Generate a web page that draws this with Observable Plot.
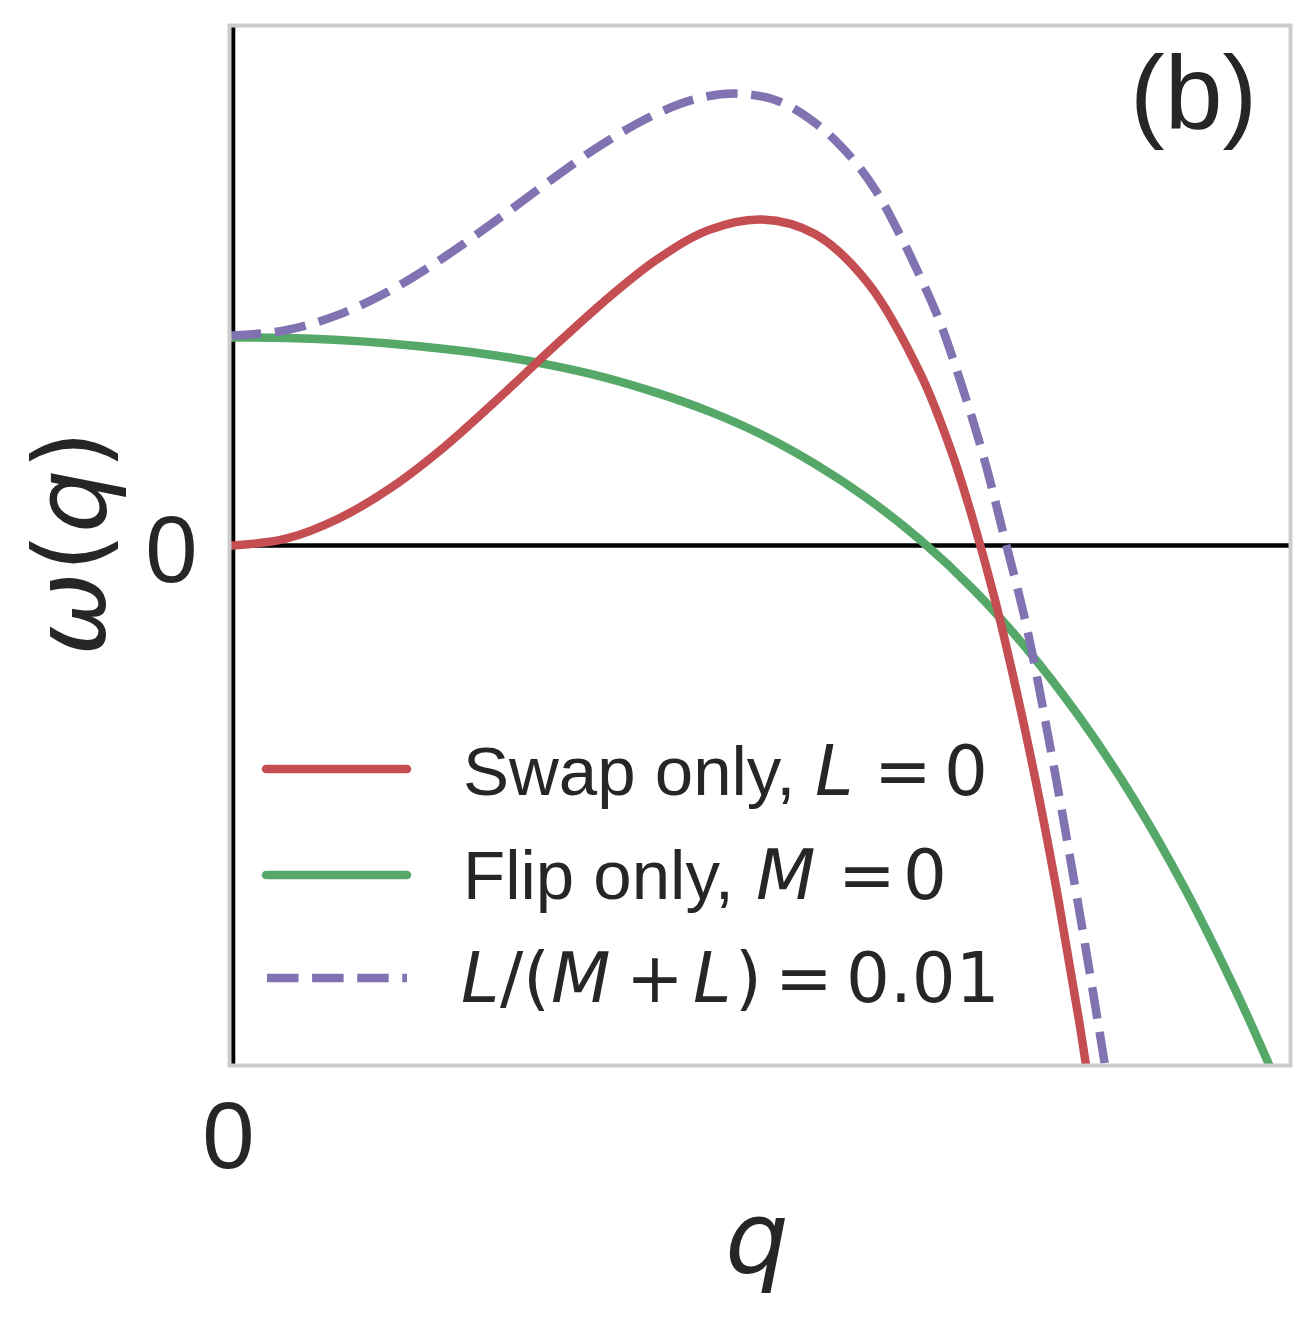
<!DOCTYPE html>
<html>
<head>
<meta charset="utf-8">
<script src="https://cdn.jsdelivr.net/npm/d3@7"></script>
<script src="https://cdn.jsdelivr.net/npm/@observablehq/plot@0.6"></script>
<style>
  html, body { margin: 0; padding: 0; background: #ffffff; }
  #chart svg { display: block; }
</style>
</head>
<body>
<div id="chart"></div>
<script>
// ---------- data ----------
// Swap only, L = 0  (red)
const swapQ = [-0.003, 0, 0.05, 0.10, 0.15, 0.20, 0.25, 0.30, 0.35, 0.40, 0.45, 0.50, 0.55, 0.60, 0.65, 0.68, 0.70, 0.72, 0.74, 0.76, 0.78, 0.80, 0.82];
const swapW = [0, 0, 0.013, 0.052, 0.112, 0.190, 0.281, 0.376, 0.468, 0.549, 0.607, 0.627, 0.599, 0.505, 0.329, 0.175, 0.045, -0.103, -0.275, -0.466, -0.680, -0.918, -1.185];

// Flip only, M = 0  (green)
const flipQ = [-0.003, 0, 0.05, 0.10, 0.15, 0.20, 0.25, 0.30, 0.35, 0.40, 0.45, 0.50, 0.55, 0.60, 0.65, 0.70, 0.75, 0.80, 0.85, 0.90, 0.95, 0.98];
const flipW = [0.400, 0.400, 0.399, 0.395, 0.388, 0.378, 0.365, 0.347, 0.324, 0.294, 0.258, 0.213, 0.157, 0.090, 0.010, -0.085, -0.198, -0.330, -0.483, -0.661, -0.866, -1.002];

// L/(M+L) = 0.01  (purple, dashed)
const mixQ = [-0.003, 0, 0.05, 0.10, 0.15, 0.20, 0.25, 0.30, 0.35, 0.40, 0.44, 0.475, 0.515, 0.552, 0.584, 0.608, 0.630, 0.649, 0.666, 0.681, 0.708, 0.729, 0.750, 0.774, 0.791, 0.809, 0.825];
const mixW = [0.404, 0.404, 0.414, 0.444, 0.492, 0.555, 0.627, 0.702, 0.773, 0.830, 0.860, 0.869, 0.855, 0.810, 0.747, 0.681, 0.599, 0.519, 0.441, 0.356, 0.181, 0.016, -0.155, -0.405, -0.598, -0.812, -1.010];

const xTicks = [0];
const yTicks = [0];
const xTickLabels = ["0"];
const yTickLabels = ["0"];
const xLabel = "q";
const yLabelParts = ["ω", "(", "q", ")"];
const panelLabel = "(b)";

// legend text pieces: [text, kind] kind: t = text font, m = math upright, mi = math italic
const legendLabels = [
  [["Swap only, ", "t"], ["L", "mi"], ["=", "m"], ["0", "m"]],
  [["Flip only, ", "t"], ["M", "mi"], ["=", "m"], ["0", "m"]],
  [["L", "mi"], ["/", "m"], ["(", "m"], ["M", "mi"], ["+", "m"], ["L", "mi"], [")", "m"], ["=", "m"], ["0.01", "m"]]
];

// ---------- styles ----------
const RED = "#C44E52", GREEN = "#55A868", PURPLE = "#8172B2";
const INK = "#262626";
const FONT_TEXT = "'Liberation Sans', Arial, sans-serif";
const FONT_MATH = "'DejaVu Sans', sans-serif";
const LW = 8.5;
const DASH = "31.5,13.6";

const rows = (qs, ws) => qs.map((q, i) => ({q, w: ws[i]}));

const chart = Plot.plot({
  width: 1314,
  height: 1320,
  marginLeft: 229,
  marginRight: 24,
  marginTop: 25,
  marginBottom: 255,
  style: {fontFamily: FONT_TEXT, color: INK, background: "#ffffff"},
  x: {domain: [-0.0033, 0.9995], axis: null},
  y: {domain: [-1, 1], axis: null},
  marks: [
    Plot.ruleX([0], {stroke: "#000000", strokeWidth: 4.6}),
    Plot.ruleY([0], {stroke: "#000000", strokeWidth: 4.6}),
    Plot.line(rows(flipQ, flipW), {x: "q", y: "w", stroke: GREEN, strokeWidth: LW, curve: "catmull-rom", clip: true, strokeLinecap: "round", strokeLinejoin: "round"}),
    Plot.line(rows(swapQ, swapW), {x: "q", y: "w", stroke: RED, strokeWidth: LW, curve: "catmull-rom", clip: true, strokeLinecap: "round", strokeLinejoin: "round"}),
    Plot.line(rows(mixQ, mixW), {x: "q", y: "w", stroke: PURPLE, strokeWidth: LW, curve: "catmull-rom", clip: true, strokeDasharray: DASH, strokeLinecap: "butt"}),
    Plot.axisX({ticks: xTicks, tickFormat: (d, i) => xTickLabels[i], tickSize: 0, tickPadding: 36, fontSize: 94, dx: -4.5, label: null, fill: INK}),
    Plot.axisY({ticks: yTicks, tickFormat: (d, i) => yTickLabels[i], tickSize: 0, tickPadding: 32, fontSize: 94, dy: 6, label: null, fill: INK}),
    Plot.frame({stroke: "#cccccc", strokeWidth: 4})
  ]
});
document.getElementById("chart").append(chart);

// ---------- annotations: legend, axis labels, panel label ----------
const svg = d3.select(chart);
const ann = svg.append("g").attr("fill", INK).attr("text-anchor", "start");

// legend
const legendColors = [RED, GREEN, PURPLE];
const legendDash = [null, null, DASH];
const legendLineY = [769, 875, 978];
const legendTextY = [795, 899, 1002];
const legendPieceX = [
  [463, 815, 874, 944],
  [463, 756, 838, 903],
  [461, 500, 523, 551, 626, 693, 735, 775, 846]
];
legendLabels.forEach((pieces, r) => {
  const ln = ann.append("line")
    .attr("x1", legendDash[r] ? 267 : 266).attr("x2", 407)
    .attr("y1", legendLineY[r]).attr("y2", legendLineY[r])
    .attr("stroke", legendColors[r]).attr("stroke-width", LW)
    .attr("stroke-linecap", legendDash[r] ? "butt" : "round");
  if (legendDash[r]) ln.attr("stroke-dasharray", legendDash[r]);
  const t = ann.append("text").attr("y", legendTextY[r]).attr("font-size", 69).attr("text-anchor", "start");
  pieces.forEach(([txt, kind], k) => {
    t.append("tspan")
      .attr("x", legendPieceX[r][k])
      .attr("text-anchor", "start")
      .attr("font-family", kind === "t" ? FONT_TEXT : FONT_MATH)
      .attr("font-style", kind === "mi" ? "italic" : "normal")
      .text(txt);
  });
});

// y label  ω(q)
const yl = ann.append("text")
  .attr("transform", "translate(105,543) rotate(-90)")
  .attr("text-anchor", "middle")
  .attr("font-family", FONT_MATH)
  .attr("font-size", 100);
yLabelParts.forEach((p) => {
  yl.append("tspan").attr("font-style", (p === "ω" || p === "q") ? "italic" : "normal").text(p);
});

// x label  q
ann.append("text")
  .attr("x", 757).attr("y", 1272)
  .attr("text-anchor", "middle")
  .attr("font-family", FONT_MATH)
  .attr("font-style", "italic")
  .attr("font-size", 100)
  .text(xLabel);

// panel label (b)
ann.append("text")
  .attr("x", 1130).attr("y", 128)
  .attr("text-anchor", "start")
  .attr("font-family", FONT_TEXT)
  .attr("font-size", 104)
  .text(panelLabel);
</script>
</body>
</html>
